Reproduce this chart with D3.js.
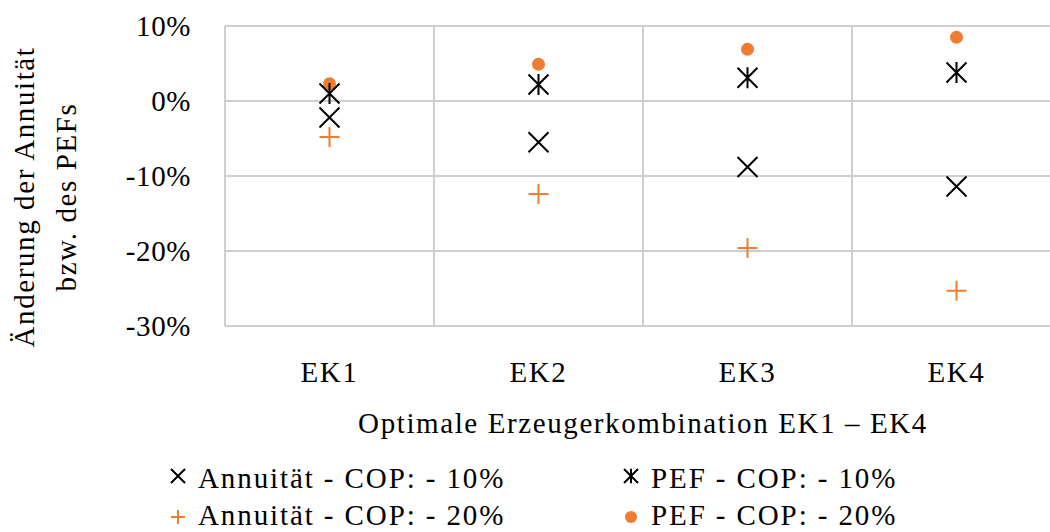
<!DOCTYPE html>
<html><head><meta charset="utf-8">
<script src="https://cdn.jsdelivr.net/npm/d3@7"></script>
<style>body{margin:0;background:#fff;} svg{display:block;} text{font-family:"Liberation Serif","DejaVu Serif",serif !important;fill:#000;letter-spacing:1.6px;}</style>
</head><body>
<svg id="c" width="1050" height="532"></svg>
<script>
const categories = ["EK1","EK2","EK3","EK4"];
const annuitaet10 = [-0.022,-0.055,-0.088,-0.114];
const pef10 = [0.010,0.022,0.031,0.038];
const annuitaet20 = [-0.048,-0.124,-0.196,-0.253];
const pef20 = [0.023,0.049,0.069,0.085];
const yTicks = [0.1,0,-0.1,-0.2,-0.3];
const seriesNames = ["Annuität - COP: - 10%","PEF - COP: - 10%","Annuität - COP: - 20%","PEF - COP: - 20%"];
const orange = "#ED7D31";
const FS = 29;
const SERIF = '"Liberation Serif", "DejaVu Serif", serif';

const svg = d3.select("#c");
const x = d3.scaleBand().domain(categories).range([225,1061]);
const y = d3.scaleLinear().domain([-0.3,0.1]).range([326,26]);
const fmt = v => d3.format(".0%")(v).replace("−","-");

// grid
const g = svg.append("g");
g.selectAll("line.h").data(yTicks).join("line")
  .attr("x1",225).attr("x2",1061).attr("y1",d=>y(d)).attr("y2",d=>y(d))
  .attr("stroke","#cfcfcf").attr("stroke-width",2);
g.selectAll("line.v").data(categories).join("line")
  .attr("x1",d=>x(d)).attr("x2",d=>x(d)).attr("y1",y(0.1)).attr("y2",y(-0.3))
  .attr("stroke","#cfcfcf").attr("stroke-width",2);

// y axis labels
const yAxis = d3.axisLeft(y).tickValues(yTicks).tickFormat(fmt).tickSize(0).tickPadding(34);
const ya = svg.append("g").attr("transform","translate(225,0)").call(yAxis).attr("font-family",SERIF);
ya.select(".domain").remove();
ya.selectAll("text").attr("font-size",FS).attr("fill","#000").attr("dy","0.34em")
  .style("font-family",SERIF).style("letter-spacing","0.6px");

// x axis labels
const xAxis = d3.axisBottom(x).tickSize(0).tickPadding(35);
const xa = svg.append("g").attr("transform","translate(0,326)").call(xAxis).attr("font-family",SERIF);
xa.select(".domain").remove();
xa.selectAll("text").attr("font-size",FS).attr("fill","#000").style("font-family",SERIF);

// titles
svg.append("text").attr("x",643).attr("y",433).attr("text-anchor","middle").attr("font-size",FS)
  .text("Optimale Erzeugerkombination EK1 – EK4");
const yt = svg.append("text").attr("transform","translate(0,197) rotate(-90)").attr("text-anchor","middle").attr("font-size",FS);
yt.append("tspan").attr("x",0).attr("y",34).text("Änderung der Annuität");
yt.append("tspan").attr("x",0).attr("y",76).text("bzw. des PEFs");

// markers
function drawX(sel,s){ sel.append("path").attr("d",`M${-s},${-s}L${s},${s}M${-s},${s}L${s},${-s}`).attr("stroke","#000").attr("stroke-width",2).attr("fill","none"); }
function drawStar(sel,s){ sel.append("path").attr("d",`M${-s},${-s}L${s},${s}M${-s},${s}L${s},${-s}M0,${-s*1.05}L0,${s*1.05}`).attr("stroke","#000").attr("stroke-width",2).attr("fill","none"); }
function drawPlus(sel,s){ sel.append("path").attr("d",`M${-s},0L${s},0M0,${-s}L0,${s}`).attr("stroke",orange).attr("stroke-width",2).attr("fill","none"); }
function drawDot(sel,r){ sel.append("circle").attr("r",r).attr("fill",orange); }

const cx = c => x(c)+x.bandwidth()/2;
const series = [
  {vals:annuitaet20, draw:(s)=>drawPlus(s,10)},
  {vals:annuitaet10, draw:(s)=>drawX(s,10)},
  {vals:pef20, draw:(s)=>drawDot(s,6.5)},
  {vals:pef10, draw:(s)=>drawStar(s,10)}
];
series.forEach(se=>{
  categories.forEach((c,i)=>{
    const gg = svg.append("g").attr("transform",`translate(${cx(c)},${y(se.vals[i])})`);
    se.draw(gg);
  });
});

// legend
const leg = [
  {name:seriesNames[0], x:178, y:476, by:488, draw:s=>drawX(s,7)},
  {name:seriesNames[1], x:631, y:476, by:488, draw:s=>drawStar(s,7)},
  {name:seriesNames[2], x:178, y:517, by:525, draw:s=>drawPlus(s,7)},
  {name:seriesNames[3], x:631, y:517, by:525, draw:s=>drawDot(s,6)}
];
leg.forEach(l=>{
  const gg = svg.append("g").attr("transform",`translate(${l.x},${l.y})`);
  l.draw(gg);
  svg.append("text").attr("x",l.x+20).attr("y",l.by).attr("font-size",FS).style("letter-spacing","1.9px").text(l.name);
});
</script>
</body></html>
